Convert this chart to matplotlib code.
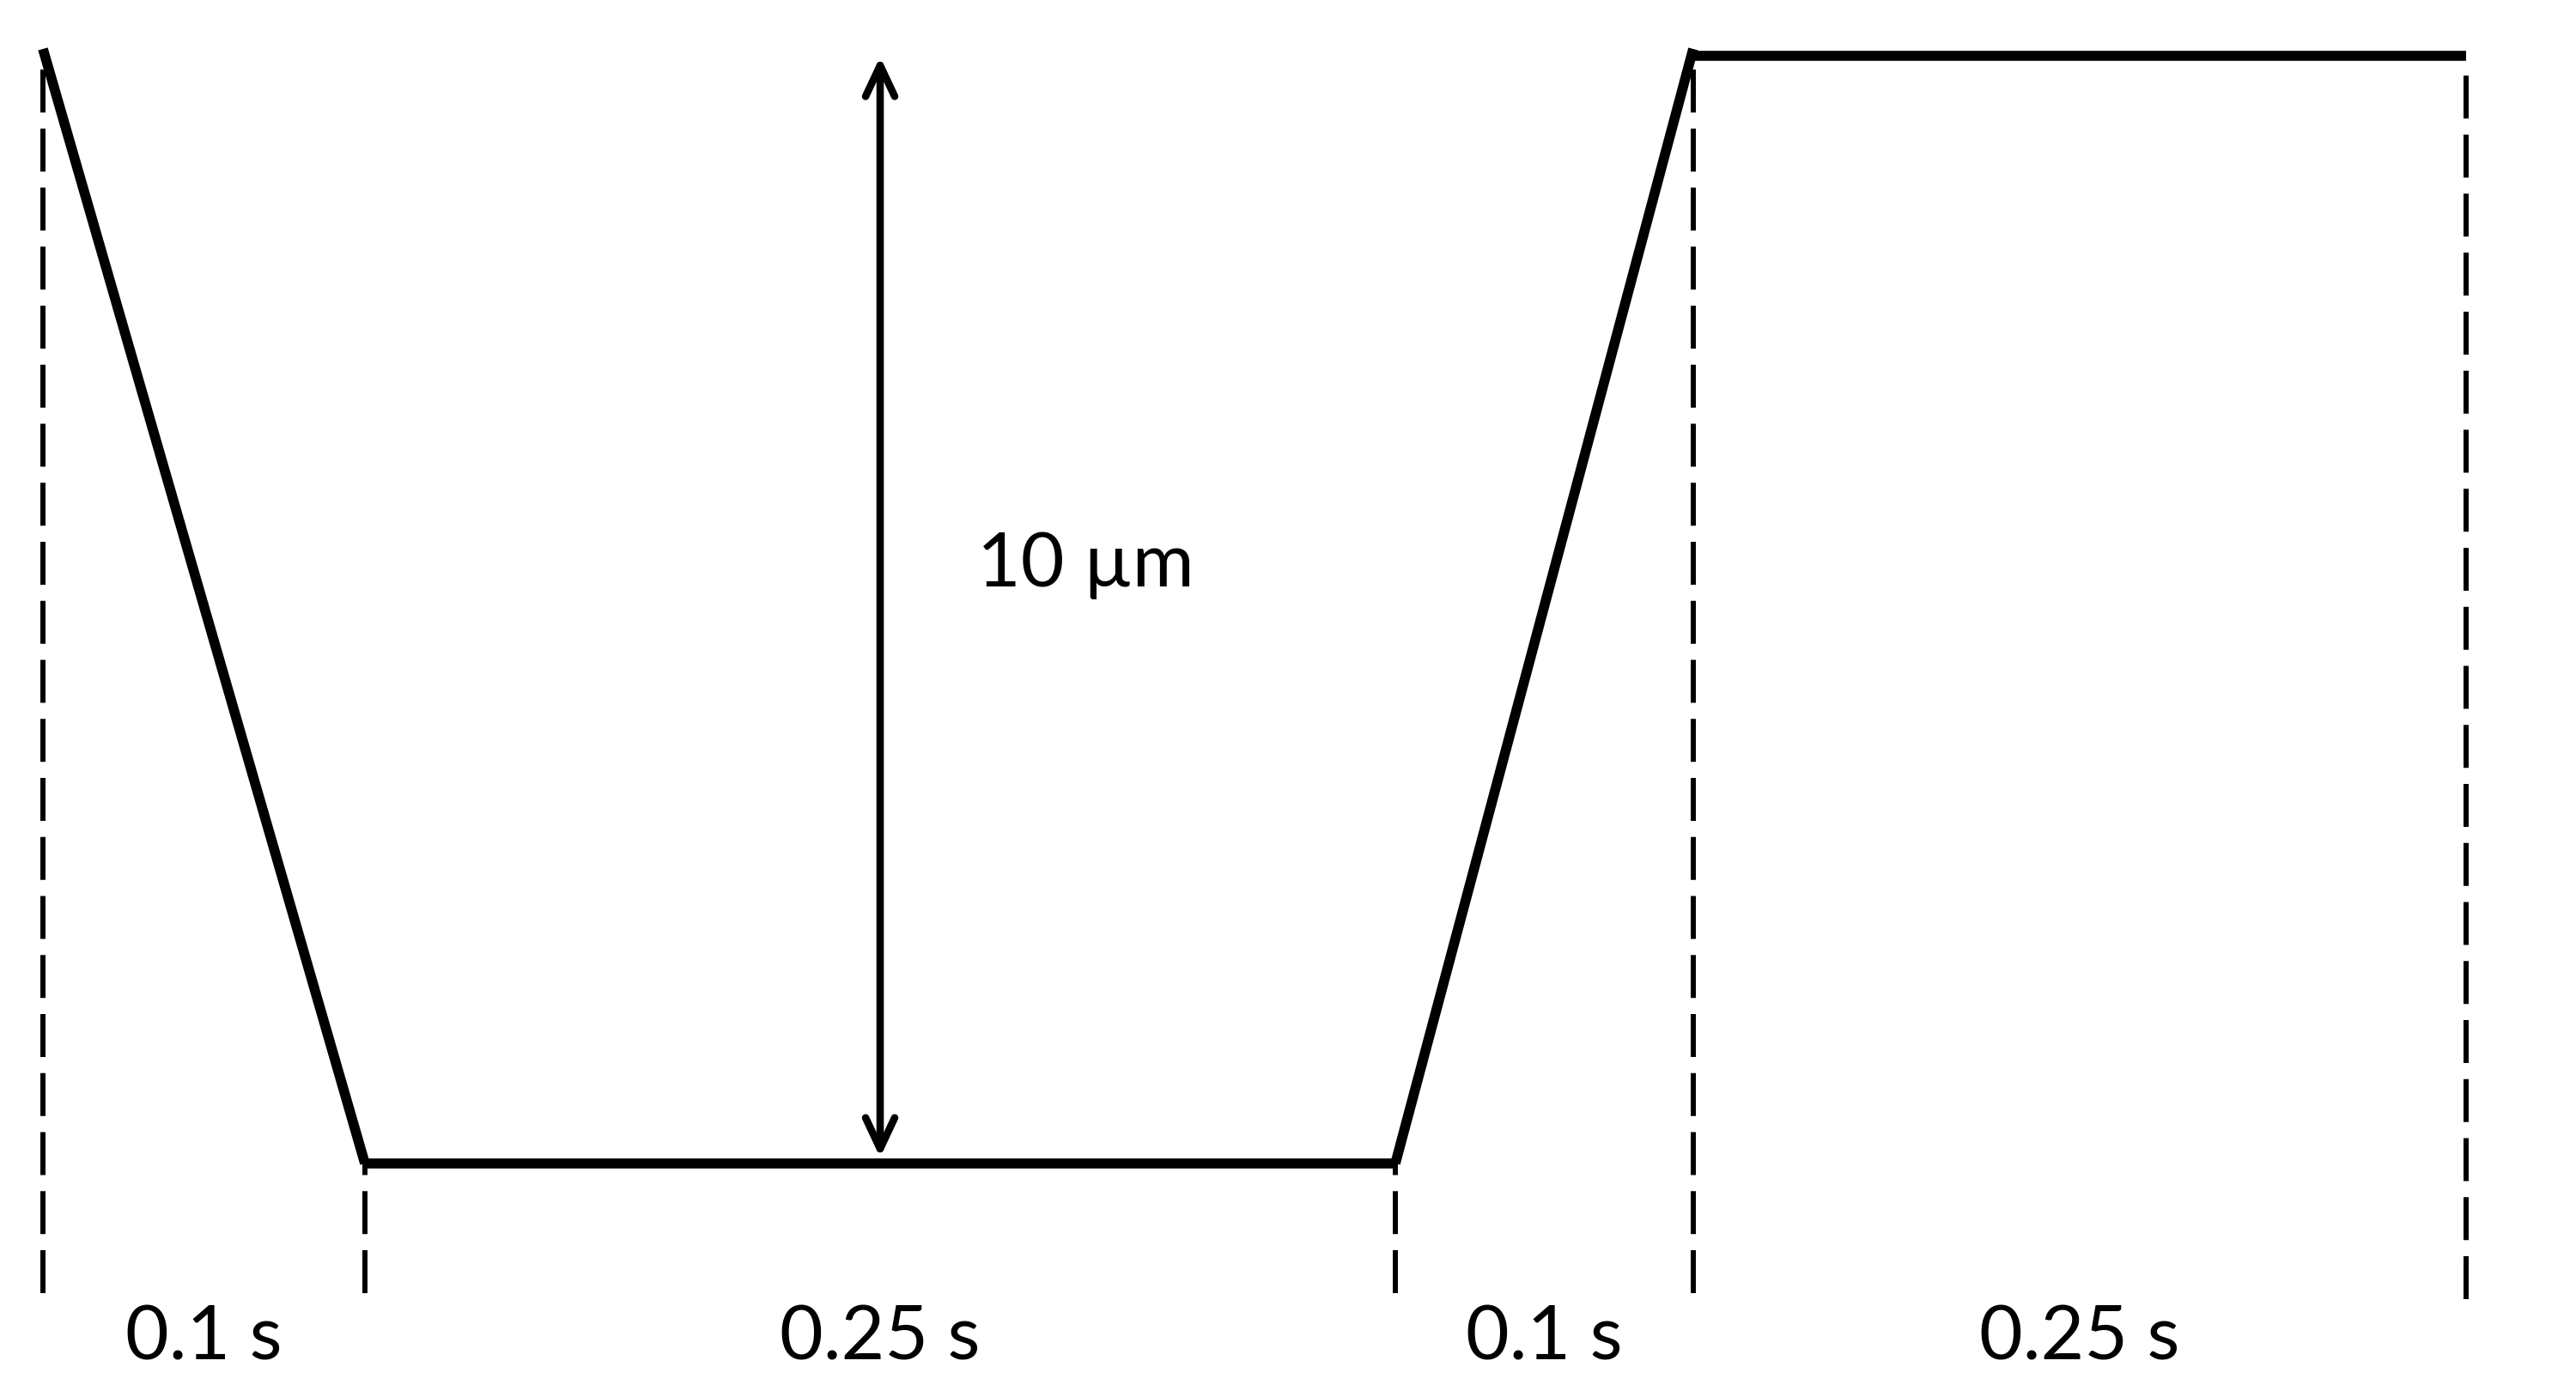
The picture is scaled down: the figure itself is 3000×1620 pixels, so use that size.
import matplotlib
matplotlib.use("Agg")
import matplotlib.pyplot as plt
from matplotlib.patches import FancyArrowPatch
import numpy as np

# ---- data ----
durations = [0.1, 0.25, 0.1, 0.25]                 # s
duration_labels = ["0.1 s", "0.25 s", "0.1 s", "0.25 s"]
amplitude_um = 10                                   # µm
amplitude_label = "10 µm"
levels = [amplitude_um, 0, 0, amplitude_um, amplitude_um]   # position at segment boundaries

# ---- layout (schematic, not to scale) ----
draw_widths = [0.100, 0.320, 0.0925, 0.240]
plateau_drop = 0.06
guide_gap_top = 0.18
guide_bottoms = [-1.16, -1.16, -1.16, -1.16, -1.22]
px_per_x = 3750.0
px_per_um = 129.8
x0_px, base_px = 50.0, 1355.0

plt.rcParams["font.family"] = ["Lato", "DejaVu Sans"]

fig = plt.figure(figsize=(30, 16.2), dpi=100)
ax = fig.add_axes([0, 0, 1, 1])
ax.set_xlim(-x0_px / px_per_x, (3000 - x0_px) / px_per_x)
ax.set_ylim((base_px - 1620) / px_per_um, base_px / px_per_um)
ax.axis("off")

bounds = np.concatenate([[0], np.cumsum(draw_widths)])

# trace segments
trace_lw = 8.4
for i in range(3):
    ax.plot(bounds[i:i + 2], levels[i:i + 2], color="black", lw=trace_lw,
            solid_capstyle="butt")
ax.plot(bounds[3:5], [levels[3] - plateau_drop, levels[4] - plateau_drop], color="black",
        lw=trace_lw, solid_capstyle="butt")

# dashed guides (drawn bottom -> top)
plt.rcParams["lines.scale_dashes"] = False
for i, xb in enumerate(bounds):
    lvl = levels[i] - (plateau_drop if i == 4 else 0)
    top = lvl - guide_gap_top if lvl > 0 else lvl
    ax.plot([xb, xb], [guide_bottoms[i], top], color="black", lw=4.3,
            linestyle=(0, (36, 13.5)), dash_capstyle="butt")

# duration labels
for i, lab in enumerate(duration_labels):
    xc = (bounds[i] + bounds[i + 1]) / 2
    ax.text(xc, -1.757, lab, ha="center", va="baseline", fontsize=63, color="black")

# amplitude arrow
x_arrow = (bounds[1] + bounds[2]) / 2
arr = FancyArrowPatch((x_arrow, 0), (x_arrow, amplitude_um),
                      arrowstyle="<->,head_length=2.6,head_width=1.22",
                      mutation_scale=10, lw=6.2, color="black",
                      shrinkA=5, shrinkB=6.5, capstyle="round", joinstyle="round")
ax.add_patch(arr)
ax.text(x_arrow + 0.0301, 5.177, amplitude_label, ha="left", va="baseline",
        fontsize=63, color="black")

fig.savefig("out.png", dpi=100, facecolor="white")
